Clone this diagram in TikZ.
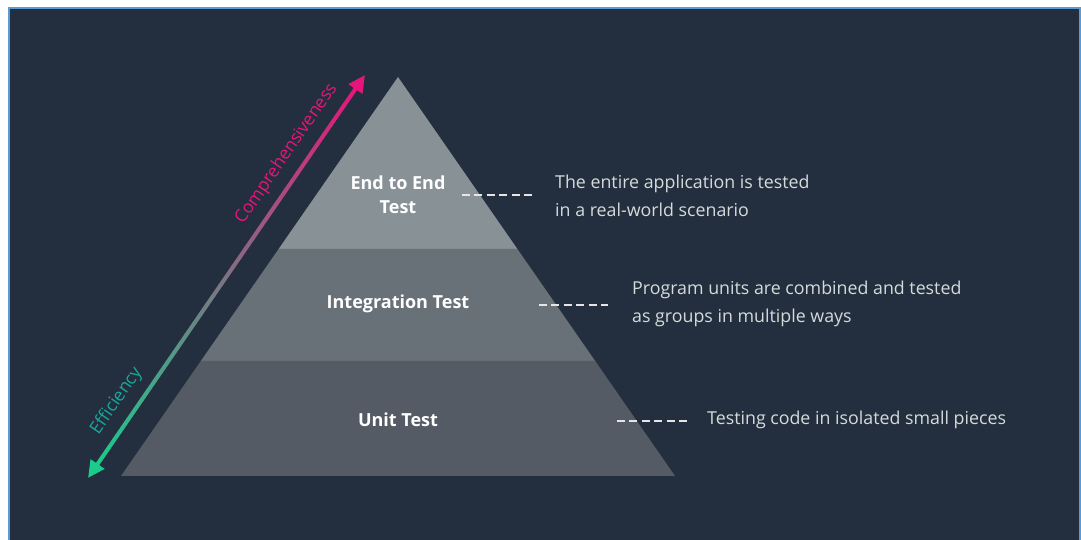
\documentclass[tikz,border=0pt]{standalone}
\usepackage{fontspec}
\setmainfont{Open Sans}[Ligatures=CommonOff]
\usetikzlibrary{arrows.meta,calc}

\definecolor{squid}{HTML}{232F3E}
\definecolor{frame}{HTML}{5B9BD5}
\definecolor{tierA}{HTML}{879196}
\definecolor{tierB}{HTML}{687078}
\definecolor{tierC}{HTML}{545B64}
\definecolor{pnk}{HTML}{E7157B}
\definecolor{grn}{HTML}{1BCB8C}
\definecolor{teal}{HTML}{1AA79C}
\definecolor{desc}{HTML}{D5DBDB}

\begin{document}
\begin{tikzpicture}[x=1pt,y=1pt,
  tier/.style={font=\bfseries\fontsize{18}{24}\selectfont, text=white, align=center, inner sep=0pt},
  note/.style={font=\fontsize{17.8}{27.5}\selectfont, text=desc, align=left, anchor=west, inner sep=0pt},
  lead/.style={draw=white!90!black, line width=2pt, dash pattern=on 8pt off 4.4pt},
  axislbl/.style={font=\fontsize{17.6}{20}\selectfont, sloped, above=11pt, inner sep=0pt}]
\useasboundingbox (0,0) rectangle (1081,540);
% dark panel with thin blue frame
\fill[white] (0,0) rectangle (1081,540);
\filldraw[fill=squid, draw=frame, line width=2pt] (9,-5) rectangle (1080,532);

% pyramid, three tiers
\coordinate (apex) at (398,463);
\fill[tierA] (apex) -- (517.4,291) -- (278.6,291) -- cycle;
\fill[tierB] (278.6,291) -- (517.4,291) -- (595.2,179) -- (200.8,179) -- cycle;
\fill[tierC] (200.8,179) -- (595.2,179) -- (675,64) -- (121,64) -- cycle;

\node[tier] (e2e) at (398,345) {End to End\\Test};
\node[tier] (integ) at (398,236) {Integration Test};
\node[tier] (unit) at (398,120) {Unit Test};

% leader lines and descriptions
\coordinate (e2eA) at (462,345);   \coordinate (e2eB) at (532,345);
\coordinate (integA) at (539,235); \coordinate (integB) at (608,235);
\coordinate (unitA) at (617,119);  \coordinate (unitB) at (687,119);
\draw[lead] (e2eA) -- (e2eB);
\draw[lead] (integA) -- (integB);
\draw[lead] (unitA) -- (unitB);
\node[note] (e2eDesc) at (555,344) {The entire application is tested\\in a real-world scenario};
\node[note] (integDesc) at (632,236) {Program units are combined and tested\\as groups in multiple ways};
\node[note] (unitDesc) at (707,120) {Testing code in isolated small pieces};

% double arrow, green to pink
\coordinate (lo) at (88,62);
\coordinate (hi) at (365,465);
\coordinate (sLo) at ($(lo)!14pt!(hi)$);
\coordinate (sHi) at ($(hi)!14pt!(lo)$);
\foreach \i in {0,...,39}{
  \pgfmathsetmacro\a{\i/40}
  \pgfmathsetmacro\b{(\i+1.05)/40}
  \pgfmathtruncatemacro\p{100*(\i+0.5)/40}
  \draw[line width=4pt, pnk!\p!grn] ($(sLo)!\a!(sHi)$) -- ($(sLo)!\b!(sHi)$);
}
\draw[line width=4pt, pnk, -{Triangle[length=17pt,width=16pt]}] (sHi) -- (hi);
\draw[line width=4pt, grn, -{Triangle[length=17pt,width=16pt]}] (sLo) -- (lo);
\path (lo) -- (hi)
  node[axislbl, pos=0.776, text=pnk] (comp) {Comprehensiveness}
  node[axislbl, pos=0.163, text=teal] (eff) {Efficiency};
\end{tikzpicture}
\end{document}
